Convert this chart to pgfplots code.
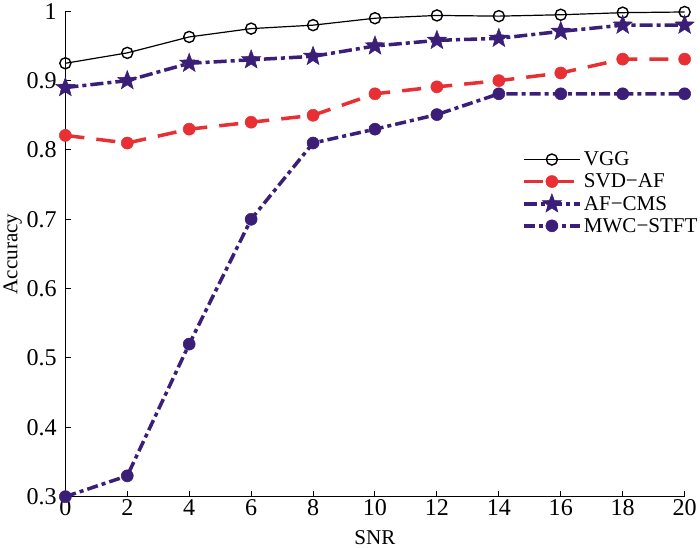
\documentclass[border=0pt]{standalone}
\usepackage{fontspec}
\setmainfont{Liberation Serif}
\usepackage{pgfplots}
\pgfplotsset{compat=1.18}
\definecolor{myred}{RGB}{232,48,52}
\definecolor{mypurple}{RGB}{58,30,120}
\pgfdeclareplotmark{fstar}{%
  \pgfpathmoveto{\pgfpointpolar{90}{\pgfplotmarksize}}%
  \pgfpathlineto{\pgfpointpolar{126}{0.42\pgfplotmarksize}}%
  \pgfpathlineto{\pgfpointpolar{162}{\pgfplotmarksize}}%
  \pgfpathlineto{\pgfpointpolar{198}{0.42\pgfplotmarksize}}%
  \pgfpathlineto{\pgfpointpolar{234}{\pgfplotmarksize}}%
  \pgfpathlineto{\pgfpointpolar{270}{0.42\pgfplotmarksize}}%
  \pgfpathlineto{\pgfpointpolar{306}{\pgfplotmarksize}}%
  \pgfpathlineto{\pgfpointpolar{342}{0.42\pgfplotmarksize}}%
  \pgfpathlineto{\pgfpointpolar{18}{\pgfplotmarksize}}%
  \pgfpathlineto{\pgfpointpolar{54}{0.42\pgfplotmarksize}}%
  \pgfpathclose
  \pgfusepathqfillstroke
}
\begin{document}
\begin{tikzpicture}[x=1bp,y=1bp]
\begin{axis}[
  scale only axis,
  width=615bp, height=482bp,
  xmin=0, xmax=20, ymin=0.3, ymax=1,
  xtick={0,2,...,20},
  ytick={0.3,0.4,0.5,0.6,0.7,0.8,0.9,1},
  yticklabels={0.3,0.4,0.5,0.6,0.7,0.8,0.9,1},
  axis lines*=left,
  axis line style={line width=1.3pt},
  tick align=inside,
  major tick length=6bp,
  tick style={line width=1pt, black},
  /pgf/number format/assume math mode=true,
  tick label style={font=\fontsize{24}{26}\selectfont},
  xticklabel style={yshift=1bp},
  yticklabel style={xshift=-5bp},
  xlabel={SNR}, ylabel={Accuracy},
  label style={font=\fontsize{21}{23}\selectfont},
  xlabel style={yshift=-8bp},
  ylabel style={yshift=-2bp},
  clip=false,
  legend style={draw=none, fill=none, at={(0.737,0.715)}, anchor=north west,
    font=\fontsize{21}{23}\selectfont, row sep=2.5bp, inner sep=0pt,
    legend cell align=left},
  legend image code/.code={\draw[mark repeat=2,mark phase=2] plot coordinates {(0bp,0bp) (28bp,0bp) (56bp,0bp)};},
]
\addplot[black, line width=1.2pt, mark=o, mark size=5.5bp, mark options={solid, line width=1.4pt}]
coordinates {(0,0.925)(2,0.940)(4,0.963)(6,0.975)(8,0.980)(10,0.990)(12,0.994)(14,0.993)(16,0.995)(18,0.998)(20,0.999)};
\addlegendentry{VGG}
\addplot[myred, line width=3.5pt, dash pattern=on 19bp off 12bp, mark=*, mark size=6bp, mark options={solid, line width=0.5pt}]
coordinates {(0,0.821)(2,0.810)(4,0.830)(6,0.840)(8,0.850)(10,0.881)(12,0.891)(14,0.900)(16,0.911)(18,0.931)(20,0.931)};
\addlegendentry{SVD−AF}
\addplot[mypurple, line width=3.5pt, dash pattern=on 13bp off 4bp on 4bp off 4bp, mark=fstar, mark size=10bp, mark options={solid, line width=0.5pt}]
coordinates {(0,0.890)(2,0.900)(4,0.925)(6,0.930)(8,0.935)(10,0.950)(12,0.958)(14,0.961)(16,0.971)(18,0.980)(20,0.980)};
\addlegendentry{AF−CMS}
\addplot[mypurple, line width=3.5pt, dash pattern=on 11bp off 4bp on 4bp off 4bp, mark=*, mark size=6bp, mark options={solid, line width=0.5pt}]
coordinates {(0,0.300)(2,0.330)(4,0.520)(6,0.700)(8,0.810)(10,0.830)(12,0.851)(14,0.881)(16,0.881)(18,0.881)(20,0.881)};
\addlegendentry{MWC−STFT}
\end{axis}
\end{tikzpicture}
\end{document}
